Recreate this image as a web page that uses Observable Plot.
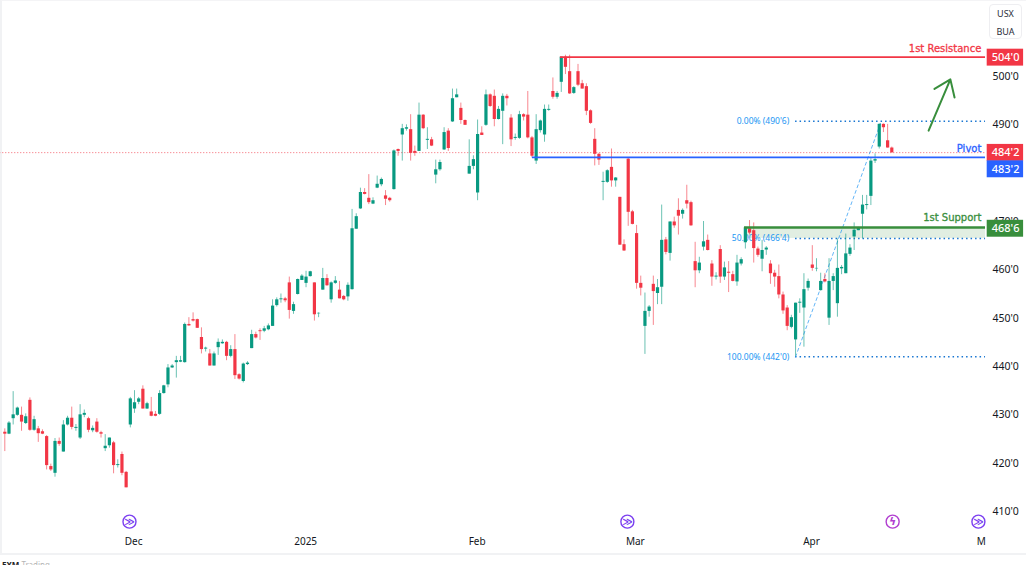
<!DOCTYPE html>
<html><head><meta charset="utf-8">
<script src="https://cdn.jsdelivr.net/npm/d3@7"></script>
<script src="https://cdn.jsdelivr.net/npm/@observablehq/plot@0.6"></script>
<style>
html,body{margin:0;padding:0;background:#fff;overflow:hidden}
#wrap{position:relative;width:1026px;height:565px}
#panel{position:absolute;left:0;top:0;width:1026px;height:555px;box-sizing:border-box;border-left:2px solid #f1f2f4;border-bottom:2px solid #f1f2f4;border-top:1px solid #f4f4f6}
#chart{position:absolute;left:0;top:0}
#box{position:absolute;left:989px;top:4px;width:33px;height:35px;box-sizing:border-box;border:1px solid #eeeef1;border-radius:4px;font:9px "Noto Sans",sans-serif;color:#2a2e39;text-align:center;line-height:18px;padding-top:0}
#foot{position:absolute;left:2px;top:559px;font:8px "Noto Sans",sans-serif;color:#b5b5b5;white-space:nowrap}
#foot b{color:#222}
svg{display:block}
</style></head><body>
<div id="wrap"><div id="panel"></div><div id="chart"></div>
<div id="box">USX<br>BUA</div>
<div id="foot"><b>FXM</b> Trading</div></div>
<script>
const directions = "RGGGRGRGRR"+"RRGRGGRGGG"+"RGRRGGRGRR"+"GGGRGRRGGG"+"GGGGRRRRGR"+"GGGRGRRGGG"+"RRGGGGGRRG"+"GGGGRGGRGG"+"RRGGGGRRGG"+"GRRGRGGRRG"+"RGRGGGRGGR"+"RGGGRGRRGG"+"RRGGRRRGGG"+"GRGGRRGRRR"+"RRRGGRGRRR"+"RRRGGRGGRG"+"RRGRRRGGRR"+"GRGRRGGGRR"+"RGGRRRRRGG"+"GGGRGGRGGG"+"GGGGGGGGGG"+"RRR";
const highs = [427.1,428.6,434.8,431.6,431.6,430.2,433.5,429.7,427.6,426.9,
425.7,419.8,425.1,425.2,428.8,429.7,431.6,428.0,432.1,431.0,
429.5,427.7,429.2,426.6,425.9,425.2,424.5,420.7,422.3,418.3,
433.6,435.0,433.6,436.0,432.6,433.6,430.7,435.0,436.1,440.4,
440.4,442.1,442.1,449.0,450.1,451.1,449.8,448.0,444.0,443.5,
443.0,445.7,445.5,445.2,444.3,446.6,438.5,440.7,441.0,447.5,
447.1,447.8,448.3,448.8,453.8,454.2,455.0,454.3,458.5,453.3,
458.1,459.0,459.7,459.7,457.3,451.1,460.3,459.0,457.5,458.6,
457.6,454.7,457.3,472.5,471.6,476.9,476.8,479.7,474.9,479.4,
479.0,476.4,475.0,484.8,485.0,490.1,490.0,492.1,485.6,494.5,
492.1,489.4,487.4,482.7,482.7,489.4,489.2,497.4,497.4,494.5,
491.0,486.9,483.6,491.0,489.6,497.2,496.4,497.2,493.8,496.4,
496.3,492.1,488.1,492.8,492.3,496.9,487.6,492.1,491.0,494.1,
494.1,499.7,496.9,504.0,504.4,504.4,497.9,502.5,499.2,498.5,
493.1,489.2,484.1,480.2,480.7,485.0,479.1,475.0,466.2,483.1,
472.3,469.2,458.7,455.2,452.6,458.7,458.0,473.4,466.7,469.9,
470.9,474.7,472.6,477.5,474.2,465.7,462.6,470.0,467.2,461.9,
459.4,465.0,461.6,461.7,459.7,463.0,462.5,468.8,470.2,469.7,
464.7,466.1,464.8,461.9,459.9,461.0,455.4,452.6,450.6,453.1,
454.0,459.2,458.1,465.0,462.3,459.3,459.2,462.3,459.2,466.4,
460.9,467.4,465.2,469.7,468.8,475.4,475.4,483.0,484.0,490.2,
490.2,490.1,485.4];
const bodyTops = [426.4,428.3,430.0,431.4,429.9,429.6,433.0,429.0,427.1,426.5,
425.5,419.3,424.5,424.5,427.9,429.3,429.3,427.4,430.0,430.3,
429.2,427.2,428.5,426.3,423.5,425.2,424.2,419.7,421.8,418.1,
433.3,432.5,433.3,435.3,432.3,430.6,430.1,434.4,436.0,439.7,
440.1,441.2,441.2,448.7,448.7,449.7,449.7,446.0,443.8,442.6,
442.6,445.0,445.0,445.0,443.5,443.5,438.3,440.5,440.7,446.6,
446.6,447.4,447.8,448.4,452.5,453.8,454.0,454.0,457.3,452.8,
458.0,458.7,458.5,459.6,457.3,451.0,458.2,458.2,457.3,457.7,
455.8,454.5,456.8,468.5,471.0,476.0,476.0,474.8,474.3,477.7,
478.7,475.3,474.8,484.6,484.9,489.2,489.4,489.0,484.5,492.0,
492.0,487.0,486.9,480.7,482.2,488.4,488.7,495.4,496.2,493.4,
490.9,481.4,482.8,488.0,488.3,496.2,496.2,495.9,493.2,495.9,
495.9,491.4,487.4,492.1,492.1,492.0,487.3,489.0,490.8,493.2,
493.2,496.9,496.5,504.0,504.0,501.0,497.7,501.0,498.5,497.9,
492.9,487.0,483.9,478.3,480.5,481.2,479.0,475.0,465.2,482.9,
472.0,467.5,457.2,451.4,452.3,457.0,456.3,466.1,466.2,469.9,
469.9,472.3,472.3,474.3,473.9,461.7,461.4,465.8,466.1,461.2,
458.7,464.2,460.4,459.5,459.0,461.4,462.1,468.7,468.5,468.1,
464.3,464.0,464.5,461.2,459.3,458.6,454.8,452.1,450.1,453.1,
453.3,455.9,457.6,461.0,460.3,457.6,458.0,457.6,458.6,460.3,
460.5,463.3,464.5,468.2,468.7,473.4,473.5,482.5,482.8,490.1,
490.1,486.7,485.2];
const bodyBots = [426.0,426.0,429.2,429.9,428.5,428.2,426.8,426.8,426.1,426.0,
419.5,418.6,417.9,423.9,422.3,427.9,427.4,427.2,425.2,429.9,
426.8,426.7,426.4,426.0,423.0,423.6,419.5,419.5,417.9,414.9,
427.9,431.2,432.6,431.2,431.2,429.7,429.7,430.1,434.4,436.2,
439.7,440.8,440.9,440.8,448.4,449.4,447.9,443.5,443.6,440.1,
440.1,443.9,444.7,442.1,442.1,438.1,437.4,436.9,440.4,443.7,
445.9,447.2,447.3,447.6,448.3,452.6,453.8,453.6,451.6,451.4,
454.9,457.8,457.2,458.6,450.7,450.9,455.8,456.7,453.8,457.2,
454.0,453.8,454.4,455.9,468.4,472.6,475.6,473.9,473.6,476.9,
477.6,474.6,474.3,476.6,484.5,487.9,489.1,484.1,484.1,484.5,
489.2,486.8,485.6,479.6,480.7,484.8,485.1,490.6,495.6,490.9,
489.9,479.8,481.4,475.9,487.8,489.9,493.8,491.1,491.1,492.8,
495.4,486.9,487.2,487.2,491.6,487.3,483.5,482.5,488.8,487.9,
493.0,495.7,495.7,498.8,501.9,496.4,496.5,498.2,497.4,492.8,
490.3,483.9,482.7,478.1,478.1,478.4,478.4,465.1,463.9,471.9,
469.4,457.2,456.2,448.3,451.4,455.5,455.1,456.4,463.6,463.4,
469.1,471.1,471.5,473.6,469.1,459.8,459.8,464.7,464.0,458.5,
458.5,458.5,458.5,459.3,457.6,457.5,461.2,465.6,467.6,464.4,
463.0,462.2,464.1,459.2,458.5,454.8,451.5,448.3,448.1,445.5,
453.1,452.1,456.2,460.3,460.2,455.7,457.5,450.0,457.6,453.0,
460.2,459.2,463.2,466.8,468.1,471.5,473.3,475.2,482.5,485.4,
489.4,485.2,484.2];
const lows = [422.4,425.9,427.9,429.7,426.6,428.0,426.6,426.6,424.3,425.9,
418.6,418.3,417.1,423.5,422.3,427.7,426.9,426.6,424.9,429.4,
426.3,426.3,426.2,425.2,422.4,423.1,417.8,419.0,417.4,414.9,
427.3,430.3,432.1,431.2,431.1,429.6,429.6,429.9,434.3,435.6,
439.6,437.6,440.8,440.7,448.3,449.2,447.9,442.6,443.0,440.1,
440.1,442.3,444.6,441.2,441.8,437.3,437.2,436.6,440.2,443.7,
445.7,445.4,447.0,447.4,448.3,452.3,453.1,453.2,449.8,450.8,
454.8,457.8,456.3,458.5,449.4,450.1,455.8,456.6,453.1,457.0,
454.0,453.6,453.5,455.8,468.4,472.5,475.5,473.5,473.5,476.8,
477.2,473.3,474.0,476.5,483.5,482.5,488.7,482.5,483.5,484.5,
489.0,484.9,485.5,477.8,480.4,484.7,484.5,490.5,495.6,490.1,
489.9,479.8,480.7,474.3,487.8,489.7,493.6,489.6,491.0,485.9,
493.9,485.5,486.8,487.0,490.8,487.1,483.2,481.8,488.3,486.4,
492.8,495.3,495.3,496.7,500.4,496.3,496.3,497.9,497.4,491.9,
490.1,481.5,481.6,474.3,477.9,477.1,477.1,465.1,463.8,469.0,
469.3,456.0,454.6,442.5,450.2,448.5,452.8,452.8,463.1,461.8,
468.6,467.2,470.5,472.6,469.0,456.3,459.2,463.9,463.9,456.6,
457.9,457.2,457.8,455.3,457.5,456.6,460.8,464.3,467.2,461.4,
462.6,459.6,463.0,457.0,456.4,454.0,450.8,447.4,447.8,442.1,
451.0,444.0,455.6,459.7,459.6,455.6,457.3,448.5,455.7,450.2,
459.0,459.2,462.8,464.0,468.1,466.4,472.4,473.3,482.0,485.0,
488.4,485.2,484.2];

const priceTicks = [410,420,430,440,450,460,470,480,490,500];
const monthLabels = ["Dec","2025","Feb","Mar","Apr","M"];
const monthBars = [30.8,71.9,112.9,150.7,192.8,233.4];
const eventBars = [29.8,148.8,212.2,232.7];
const eventKinds = ["dividend","dividend","earnings","dividend"];
const tagLabels = ["504'0","484'2","483'2","468'6"];
const tagCentres = [503.9,484.2,480.8,468.5];
const tagColors = ["#f23645","#f23645","#2962ff","#388e3c"];
const fibLabels = ["0.00% (490'6)","50.00% (466'4)","100.00% (442'0)"];
const fibLevels = [490.75,466.5,442];
const levelNames = ["1st Resistance","Pivot","1st Support"];
const levelValues = [504,483.25,468.75];
const levelStarts = [132.8,126.1,176.8];
const levelColors = ["#f23645","#2962ff","#388e3c"];
const levelWidths = [1.8,1.8,2.4];
const levelLabelPrices = [505.8,485.1,470.7];
const lastPrice = 484.25, axisEnd = 234.4, GREEN="#089981", RED="#f23645", FIB="#2196f3", FONT='"Noto Sans",sans-serif';

const candles = highs.map((h,i)=>({i,h,t:bodyTops[i],b:bodyBots[i],l:lows[i],c:directions[i]==="G"?GREEN:RED}));

const chart = Plot.plot({
  width:1026, height:565, margin:0,
  style:{background:"transparent",fontFamily:FONT},
  x:{type:"linear",domain:[0,212],range:[4.3,891.3],axis:null},
  y:{type:"linear",domain:[410,500],range:[511,76],axis:null},
  marks:[
    Plot.rect([0],{x1:levelStarts[2],x2:axisEnd,y1:466.5,y2:468.75,fill:"#388e3c",fillOpacity:0.15}),
    Plot.ruleY([lastPrice],{x1:-1.2,x2:axisEnd,stroke:RED,strokeWidth:0.9,strokeDasharray:"1,2",strokeOpacity:.85}),
    Plot.ruleY(fibLevels,{x1:189,x2:axisEnd,stroke:"#1976d2",strokeWidth:1.5,strokeDasharray:"1.5,3"}),
    Plot.text(fibLabels,{x:187.5,y:(d,i)=>fibLevels[i],text:d=>d,textAnchor:"end",fontSize:8.5,fill:FIB}),
    Plot.line([[189,442],[209.3,490.3]],{x:d=>d[0],y:d=>d[1],stroke:FIB,strokeOpacity:.7,strokeWidth:1,strokeDasharray:"3,3"}),
    Plot.ruleX(candles,{x:"i",y1:"l",y2:"h",stroke:"c",strokeWidth:1,strokeOpacity:.6}),
    Plot.ruleX(candles,{x:"i",y1:"b",y2:"t",stroke:"c",strokeWidth:3.2}),
    Plot.ruleY(levelValues,{x1:(d,i)=>levelStarts[i],x2:axisEnd,stroke:(d,i)=>levelColors[i],strokeWidth:(d,i)=>levelWidths[i]}),
    Plot.text(levelNames,{x:233.4,y:(d,i)=>levelLabelPrices[i],text:d=>d,textAnchor:"end",fontSize:10,fontFamily:"DejaVu Sans",fontWeight:"normal",fill:(d,i)=>levelColors[i],stroke:(d,i)=>levelColors[i],strokeWidth:0.3}),
    Plot.arrow([0],{x1:220.8,y1:488.8,x2:226,y2:499.4,stroke:"#388e3c",strokeWidth:2,headLength:17,headAngle:72,bend:0}),
    Plot.text(priceTicks,{x:239.2,y:d=>d,text:d=>d+"'0",fontSize:10.5,fill:"#131722"}),
    Plot.rect(tagLabels,{x1:234.8,x2:243.5,y1:(d,i)=>tagCentres[i]-1.75,y2:(d,i)=>tagCentres[i]+1.75,fill:(d,i)=>tagColors[i]}),
    Plot.text(tagLabels,{x:239.2,y:(d,i)=>tagCentres[i],text:d=>d,fontSize:11,fill:"#fff",fontWeight:500}),
    Plot.text(monthLabels,{x:(d,i)=>monthBars[i],y:403.8,text:d=>d,fontSize:10,fill:"#131722",fontWeight:d=>d==="2025"?"bold":"normal"}),
    Plot.dot(eventBars,{x:d=>d,y:407.9,r:6.5,fill:"#fff",strokeWidth:1.4,stroke:(d,i)=>eventKinds[i]==="earnings"?"#b13fd0":"#7b3ff0"}),
    Plot.text(eventBars,{x:d=>d,y:407.9,text:(d,i)=>eventKinds[i]==="earnings"?"ϟ":"≫",fontSize:(d,i)=>eventKinds[i]==="earnings"?11:10,fontFamily:"DejaVu Sans",fontWeight:"bold",fill:(d,i)=>eventKinds[i]==="earnings"?"#b13fd0":"#7b3ff0"})
  ]
});
document.getElementById("chart").appendChild(chart);
</script></body></html>
